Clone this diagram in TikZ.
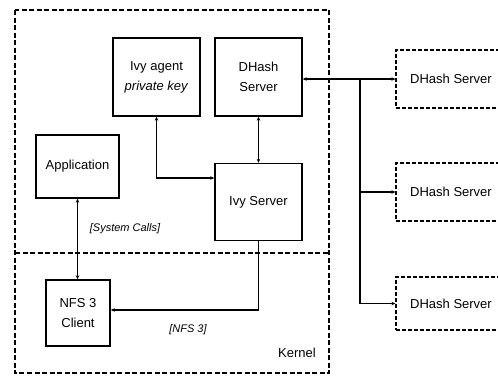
\documentclass[tikz,border=0pt]{standalone}
\usepackage{fontspec}
\setmainfont{Liberation Sans}
\usetikzlibrary{arrows.meta}
\tikzset{
  box/.style={draw, line width=1.4pt, rectangle, inner sep=0pt, align=center, font=\fontsize{13}{20}\selectfont},
  rbox/.style={draw, dashed, dash pattern=on 4pt off 2pt, line width=1.1pt, rectangle, inner sep=0pt, align=center, font=\fontsize{13}{15}\selectfont},
  conn/.style={line width=1.1pt, -{Stealth[length=4pt,width=3.5pt]}},
  conn2/.style={line width=1.1pt, {Stealth[length=4pt,width=3.5pt]}-{Stealth[length=4pt,width=3.5pt]}},
  region/.style={dashed, dash pattern=on 5pt off 2.5pt, line width=1.1pt},
  lab/.style={font=\itshape\fontsize{11}{13}\selectfont}
}
\begin{document}
\begin{tikzpicture}[x=1pt,y=-1pt]
\clip (0,0) rectangle (498,375);
\fill[white] (0,0) rectangle (498,375);
% regions
\draw[region] (15,10) rectangle (329,373);
\draw[region] (15,253) -- (329,253);
% boxes
\node[box, minimum width=87pt, minimum height=78pt] (agent) at (156.5,77) {Ivy agent\\\textit{private key}};
\node[box, minimum width=87pt, minimum height=78pt] (dhash) at (258.5,77) {DHash\\Server};
\node[box, minimum width=83pt, minimum height=63pt] (app) at (77.5,166.5) {Application};
\node[box, minimum width=87pt, minimum height=77pt] (ivy) at (258.5,202) {Ivy Server};
\node[box, minimum width=64pt, minimum height=66pt] (nfs) at (78,313) {NFS 3\\Client};
\node[rbox, minimum width=110pt, minimum height=58pt] (r1) at (451,79) {DHash Server};
\node[rbox, minimum width=110pt, minimum height=58pt] (r2) at (451,192) {DHash Server};
\node[rbox, minimum width=110pt, minimum height=53pt] (r3) at (451,303.5) {DHash Server};
% labels
\node[lab] (sc) at (125,229) {[System Calls]};
\node[lab] (nf) at (188,330) {[NFS 3]};
\node[font=\fontsize{13}{15}\selectfont] (kern) at (297,353) {Kernel};
% connectors
\coordinate (j1) at (156.5,178);
\coordinate (j2) at (360,79);
\coordinate (j3) at (258.5,310);
\draw[conn2] (agent.south) -- (j1) -- (ivy.west |- j1);
\draw[conn2] (dhash.south) -- (ivy.north);
\draw[conn2] (dhash.east |- j2) -- (r1.west);
\draw[conn] (j2) |- (r2.west);
\draw[conn] (j2) |- (r3.west);
\draw[conn2] (app.south) -- (nfs.north -| app.south);
\draw[conn] (ivy.south) -- (j3) -- (nfs.east |- j3);
\end{tikzpicture}
\end{document}
